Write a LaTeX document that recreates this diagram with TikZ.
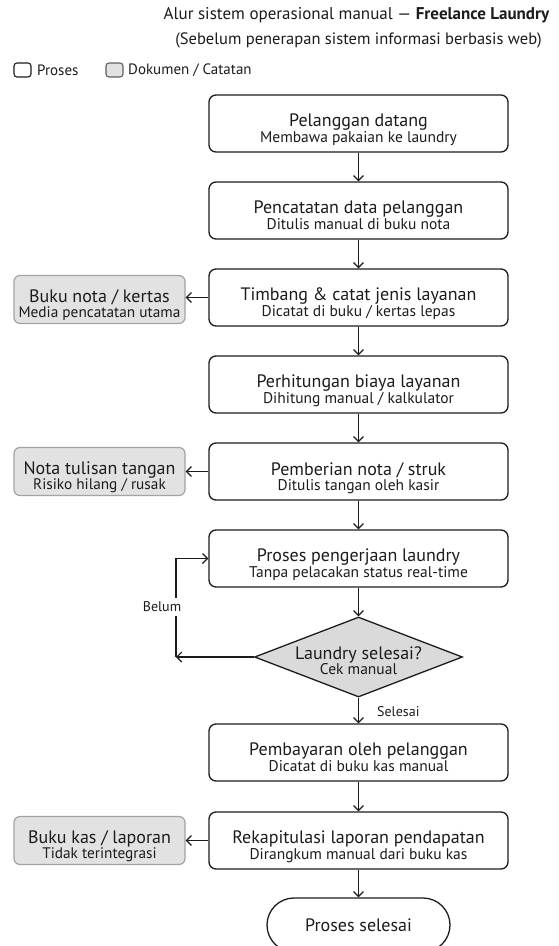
\documentclass[tikz,border=0pt]{standalone}
\usepackage{fontspec}
\setmainfont{PT Sans}
\usetikzlibrary{shapes.geometric,arrows.meta}
\definecolor{ink}{HTML}{1C1C1C}
\definecolor{docfill}{HTML}{E2E2E2}
\definecolor{docline}{HTML}{A3A3A3}
\definecolor{decfill}{HTML}{DADADA}
\tikzset{
  procbox/.style={draw=ink, line width=1.3pt, rounded corners=7pt, fill=white,
    minimum width=299pt, minimum height=57pt, inner sep=0pt, align=center, text=ink},
  docbox/.style={draw=docline, line width=1.2pt, rounded corners=6pt, fill=docfill,
    minimum width=171pt, minimum height=48pt, inner sep=0pt, align=center, text=ink},
  termbox/.style={draw=ink, line width=1.3pt, rounded corners=27pt, fill=white,
    minimum width=183pt, minimum height=54pt, inner sep=0pt, align=center, text=ink},
  decbox/.style={draw=ink, line width=1.3pt, diamond, fill=decfill,
    minimum width=208pt, minimum height=80pt, inner sep=0pt},
  flow/.style={draw=ink, line width=1.2pt, -{Straight Barb[length=5pt,width=10pt,line width=1.2pt]}},
  lbl/.style={text=ink, font=\fontsize{14}{16}\selectfont, inner sep=1pt},
}
% main boxes: line 1 baseline 2pt below centre, 18.5pt between baselines
\newcommand{\twoline}[2]{\fontsize{18}{18.5}\selectfont\rule{0pt}{26.5pt}#1\\%
  \fontsize{15.5}{18.5}\selectfont\rule[-4pt]{0pt}{4pt}#2}
% document boxes
\newcommand{\docline}[2]{\fontsize{18}{18.7}\selectfont\rule{0pt}{24.7pt}#1\\%
  \fontsize{15.3}{18.7}\selectfont\rule[-4pt]{0pt}{4pt}#2}
% decision
\newcommand{\decline}[2]{\fontsize{18}{16}\selectfont\rule{0pt}{24pt}#1\\%
  \fontsize{15.5}{16}\selectfont\rule[-4pt]{0pt}{4pt}#2}
\begin{document}
\begin{tikzpicture}[x=1pt,y=-1pt]
\useasboundingbox (0,0) rectangle (559,946);
\fill[white] (0,0) rectangle (559,946);

% titles
\node[text=ink, font=\fontsize{17}{20}\selectfont, inner sep=0pt] (title) at (356.5,15)
  {Alur sistem operasional manual — \textbf{Freelance Laundry}};
\node[text=ink, font=\fontsize{16.5}{19}\selectfont, inner sep=0pt] (subtitle) at (358.5,40)
  {(Sebelum penerapan sistem informasi berbasis web)};

% legend
\node[draw=ink, line width=1.1pt, rounded corners=3pt, fill=white,
  minimum width=17pt, minimum height=14pt, inner sep=0pt] (lgp) at (22.5,70) {};
\node[lbl, anchor=west, font=\fontsize{15}{17}\selectfont] (lgpt) at (36,70.5) {Proses};
\node[draw=ink!70, line width=1.1pt, rounded corners=3pt, fill=docfill,
  minimum width=17pt, minimum height=14pt, inner sep=0pt] (lgd) at (114.5,70) {};
\node[lbl, anchor=west, font=\fontsize{15}{17}\selectfont] (lgdt) at (127,70.5) {Dokumen / Catatan};

% main process
\node[procbox] (p1) at (358.5,123.5) {\twoline{Pelanggan datang}{Membawa pakaian ke laundry}};
\node[procbox] (p2) at (358.5,210.5) {\twoline{Pencatatan data pelanggan}{Ditulis manual di buku nota}};
\node[procbox] (p3) at (358.5,297.5) {\twoline{Timbang \& catat jenis layanan}{Dicatat di buku / kertas lepas}};
\node[procbox] (p4) at (358.5,384.5) {\twoline{Perhitungan biaya layanan}{Dihitung manual / kalkulator}};
\node[procbox] (p5) at (358.5,471.5) {\twoline{Pemberian nota / struk}{Ditulis tangan oleh kasir}};
\node[procbox] (p6) at (358.5,558.5) {\twoline{Proses pengerjaan laundry}{Tanpa pelacakan status real-time}};
\node[decbox] (dec) at (358.5,657) {};
\node[align=center, text=ink, inner sep=0pt] (dectext) at (358.5,657) {\decline{Laundry selesai?}{Cek manual}};
\node[procbox] (p7) at (358.5,752.5) {\twoline{Pembayaran oleh pelanggan}{Dicatat di buku kas manual}};
\node[procbox] (p8) at (358.5,840.5) {\twoline{Rekapitulasi laporan pendapatan}{Dirangkum manual dari buku kas}};
\node[termbox] (end) at (358.5,925) {\fontsize{18}{21}\selectfont Proses selesai};

% documents
\node[docbox] (d1) at (99.5,299.5) {\docline{Buku nota / kertas}{Media pencatatan utama}};
\node[docbox] (d2) at (99.5,471.5) {\docline{Nota tulisan tangan}{Risiko hilang / rusak}};
\node[docbox] (d3) at (99.5,840.5) {\docline{Buku kas / laporan}{Tidak terintegrasi}};

% flow
\draw[flow] (p1) -- (p2);
\draw[flow] (p2) -- (p3);
\draw[flow] (p3) -- (p4);
\draw[flow] (p4) -- (p5);
\draw[flow] (p5) -- (p6);
\draw[flow] (p6) -- (dec.north);
\draw[flow] (dec.south) -- (p7);
\draw[flow] (p7) -- (p8);
\draw[flow] (p8) -- (end);

\draw[flow] (p3.west) -- (d1.east |- p3.west);
\draw[flow] (p5.west) -- (d2.east);
\draw[flow] (p8.west) -- (d3.east);

% loop
\coordinate (lp) at (176,657);
\coordinate (lq) at (176,558.5);
\draw[flow] (dec.west) -- (lp);
\draw[flow] (lp) -- (lq) -- (p6.west);
\node[lbl, fill=white, inner ysep=4pt] (belum) at (162,607) {Belum};
\node[lbl, anchor=west] (selesai) at (376,712) {Selesai};
\end{tikzpicture}
\end{document}
